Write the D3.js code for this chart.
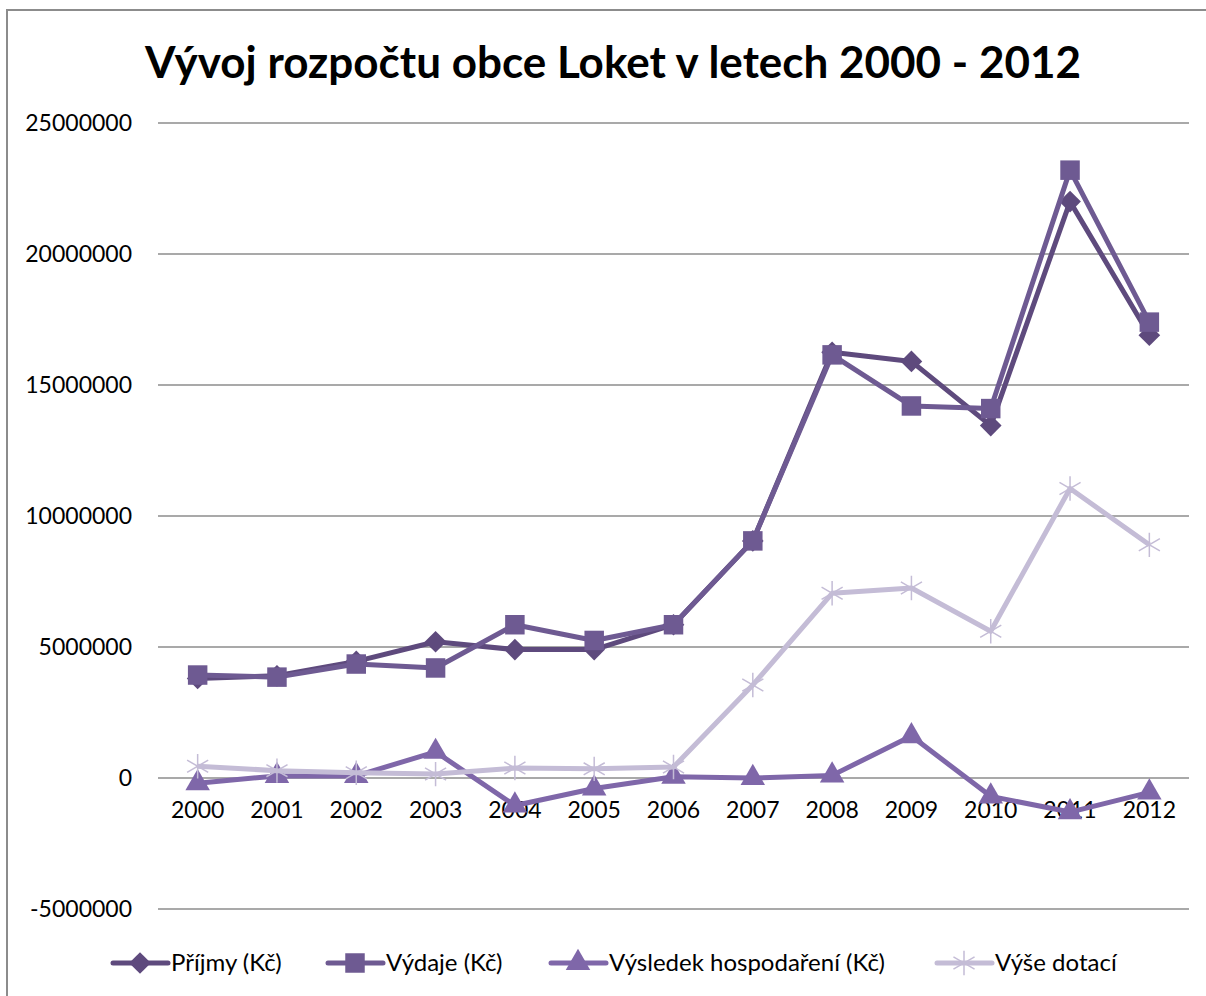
<!DOCTYPE html>
<html>
<head>
<meta charset="utf-8">
<script src="https://cdn.jsdelivr.net/npm/d3@7"></script>
<style>
  body { margin: 0; background: #fff; }
  svg text { font-family: Lato, "Open Sans", sans-serif; fill: #000; }
</style>
</head>
<body>
<svg id="chart" width="1206" height="996"></svg>
<script>
// data
var years = ["2000","2001","2002","2003","2004","2005","2006","2007","2008","2009","2010","2011","2012"];
var prijmy = [3800000, 3900000, 4450000, 5200000, 4900000, 4900000, 5850000, 9050000, 16250000, 15900000, 13450000, 22000000, 16900000];
var vydaje = [3930000, 3850000, 4350000, 4200000, 5850000, 5250000, 5850000, 9050000, 16150000, 14200000, 14100000, 23200000, 17400000];
var vysledek = [-200000, 80000, 80000, 1000000, -1050000, -400000, 50000, 0, 100000, 1600000, -700000, -1300000, -550000];
var dotace = [450000, 280000, 200000, 150000, 380000, 350000, 420000, 3550000, 7050000, 7250000, 5600000, 11050000, 8900000];
var yTicks = [-5000000, 0, 5000000, 10000000, 15000000, 20000000, 25000000];

var series = [
  { name: "Příjmy (Kč)", values: prijmy, color: "#5e4a7d", symbol: d3.symbolDiamond2, size: 300 },
  { name: "Výdaje (Kč)", values: vydaje, color: "#6e5a92", symbol: d3.symbolSquare, size: 380 },
  { name: "Výsledek hospodaření (Kč)", values: vysledek, color: "#7f67a9", symbol: d3.symbolTriangle, size: 260 },
  { name: "Výše dotací", values: dotace, color: "#c4bcd6", symbol: d3.symbolAsterisk, size: 420 }
];

var svg = d3.select("#chart");

//outer chart border
svg.append("rect")
  .attr("x", 7).attr("y", 10)
  .attr("width", 1230).attr("height", 1010)
  .attr("fill", "none").attr("stroke", "#8c8c8c").attr("stroke-width", 2);

svg.append("text")
  .attr("x", 613).attr("y", 78)
  .attr("text-anchor", "middle")
  .style("font-size", "44px").style("font-weight", "bold")
  .text("Vývoj rozpočtu obce Loket v letech 2000 - 2012");

var x = d3.scaleBand().domain(years).range([158, 1189]);
var y = d3.scaleLinear().domain([-5000000, 25000000]).range([909, 123]);

// gridlines
svg.append("g")
  .selectAll("line")
  .data(yTicks)
  .enter()
  .append("line")
  .attr("x1", 158).attr("x2", 1189)
  .attr("y1", d => y(d)).attr("y2", d => y(d))
  .attr("stroke", "#8c8c8c").attr("stroke-width", 1.5);

// y labels
var yAxis = svg.append("g")
  .attr("transform", "translate(132,0)")
  .call(d3.axisLeft(y).tickValues(yTicks).tickSize(0).tickPadding(0).tickFormat(d => String(d)));
yAxis.select(".domain").remove();
yAxis.selectAll("text").style("font-size", "23px").attr("font-family", null);

// x labels sit under the zero line
var xAxis = svg.append("g")
  .attr("transform", "translate(0," + y(0) + ")")
  .call(d3.axisBottom(x).tickSize(0).tickPadding(24));
xAxis.select(".domain").remove();
xAxis.selectAll("text").style("font-size", "23px").attr("font-family", null);

var line = d3.line()
  .x((d, i) => x(years[i]) + x.bandwidth() / 2)
  .y(d => y(d));

// draw lines and markers
series.forEach(function (s) {
  var g = svg.append("g");
  g.append("path")
    .attr("d", line(s.values))
    .attr("fill", "none")
    .attr("stroke", s.color)
    .attr("stroke-width", 5)
    .attr("stroke-linejoin", "round");
  var sym = d3.symbol().type(s.symbol).size(s.size);
  g.selectAll("path.m")
    .data(s.values)
    .enter()
    .append("path")
    .attr("class", "m")
    .attr("transform", (d, i) => "translate(" + (x(years[i]) + x.bandwidth() / 2) + "," + y(d) + ")")
    .attr("d", sym)
    .attr("fill", s.symbol === d3.symbolAsterisk ? "none" : s.color)
    .attr("stroke", s.color)
    .attr("stroke-width", s.symbol === d3.symbolAsterisk ? 1.5 : 0);
});

//legend
var legendX = [113, 328, 551, 937];
var legend = svg.append("g");
series.forEach(function (s, i) {
  var lg = legend.append("g").attr("transform", "translate(" + legendX[i] + ",963)");
  lg.append("line")
    .attr("x1", 0).attr("x2", 55)
    .attr("stroke", s.color).attr("stroke-width", 5).attr("stroke-linecap", "round");
  lg.append("path")
    .attr("transform", "translate(27,0)")
    .attr("d", d3.symbol().type(s.symbol).size(s.size)())
    .attr("fill", s.symbol === d3.symbolAsterisk ? "none" : s.color)
    .attr("stroke", s.color)
    .attr("stroke-width", s.symbol === d3.symbolAsterisk ? 1.5 : 0);
  lg.append("text")
    .attr("x", 58).attr("dy", "0.35em")
    .style("font-size", "24px")
    .text(s.name);
});
</script>
</body>
</html>
